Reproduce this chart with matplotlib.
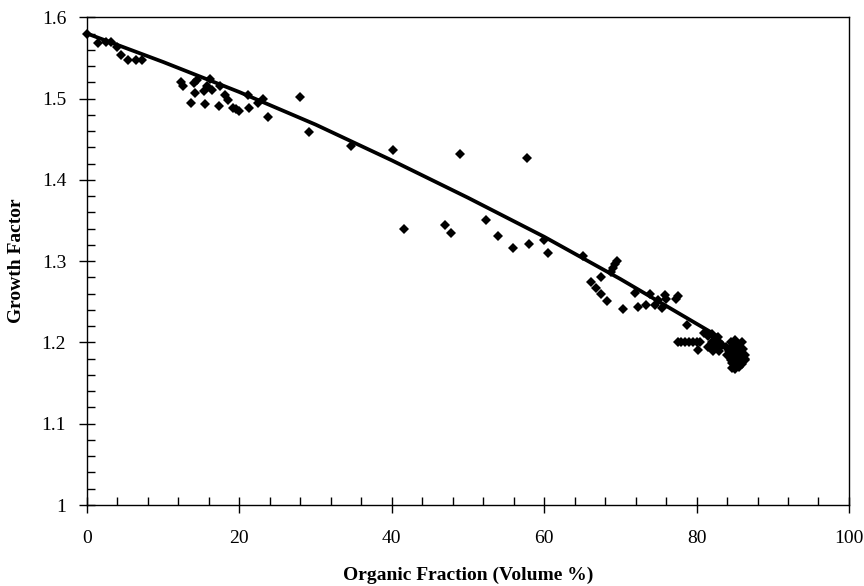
import numpy as np
import matplotlib
matplotlib.use("Agg")
import matplotlib.pyplot as plt
from matplotlib.ticker import MultipleLocator

# puntos medidos (fraccion organica %, factor de crecimiento)
frac_org = [
    0.0, 1.45, 2.5, 3.1, 3.9, 4.5, 5.4, 6.4, 7.2,
    12.3, 12.6, 13.7, 14.1, 14.2, 14.5, 15.3, 15.5, 15.7, 16.2, 16.4,
    17.3, 17.5, 18.1, 18.5, 19.1, 19.5, 19.9, 21.1, 21.2, 22.5, 23.1, 23.7,
    27.9, 29.2, 34.6,
    40.1, 41.6, 47.0, 47.8, 48.9, 52.3, 53.9, 55.9, 57.8, 58.0, 60.0, 60.5,
    65.1, 66.1, 66.8, 67.4, 67.5, 68.2, 68.8, 69.0, 69.3, 69.6, 70.4,
    71.9, 72.3, 73.4, 73.9, 74.5, 74.9, 75.4, 75.8, 76.0, 77.3, 77.6, 78.8,
    77.5, 78.0, 78.5, 79.0, 79.5, 80.0, 80.5, 80.2,
    81.0, 81.5, 82.0, 82.5, 82.0, 82.5, 83.0, 81.5, 82.2, 83.0, 82.8, 83.3,
    84.5, 85.0, 85.5, 86.0, 84.2, 84.8, 85.2, 85.8, 86.3, 84.5, 85.0,
    85.5, 86.0, 86.3, 84.8, 85.3, 85.9, 83.8, 84.0, 85.6, 84.9,
    84.3, 84.7, 85.1, 85.7, 86.1, 86.4, 84.6, 85.4,
]
factor_crec = [
    1.580, 1.568, 1.570, 1.570, 1.563, 1.553, 1.548, 1.548, 1.548,
    1.520, 1.516, 1.495, 1.519, 1.507, 1.523, 1.509, 1.493, 1.515, 1.524, 1.511,
    1.491, 1.515, 1.505, 1.498, 1.489, 1.487, 1.485, 1.505, 1.489, 1.495, 1.499, 1.477,
    1.502, 1.459, 1.442,
    1.437, 1.340, 1.345, 1.335, 1.432, 1.351, 1.331, 1.316, 1.427, 1.321, 1.326, 1.310,
    1.306, 1.274, 1.267, 1.280, 1.260, 1.251, 1.287, 1.291, 1.296, 1.300, 1.241,
    1.261, 1.243, 1.246, 1.260, 1.246, 1.252, 1.242, 1.258, 1.254, 1.254, 1.257, 1.221,
    1.201, 1.201, 1.201, 1.201, 1.201, 1.201, 1.201, 1.191,
    1.212, 1.208, 1.210, 1.205, 1.200, 1.195, 1.200, 1.195, 1.190, 1.190, 1.207, 1.197,
    1.200, 1.203, 1.198, 1.200, 1.190, 1.185, 1.190, 1.188, 1.185, 1.178, 1.172,
    1.176, 1.174, 1.180, 1.195, 1.182, 1.180, 1.195, 1.185, 1.170, 1.170,
    1.192, 1.175, 1.167, 1.192, 1.192, 1.178, 1.168, 1.186,
]

# curva de ajuste
ajuste_x = [0, 10, 20, 30, 40, 50, 60, 70, 82]
ajuste_y = [1.580, 1.545, 1.508, 1.468, 1.424, 1.378, 1.330, 1.278, 1.212]

plt.rcParams['font.family'] = ['Liberation Serif', 'DejaVu Serif']
plt.rcParams['font.size'] = 14

fig = plt.figure(figsize=(8.64, 5.86), dpi=100)
ax = fig.add_axes([0.1007, 0.1382, 0.8819, 0.8323])

ax.plot(frac_org, factor_crec, 'D', color='black', ms=4.6, mew=0, clip_on=False, zorder=3)
ax.plot(ajuste_x, ajuste_y, color='black', lw=2.7, solid_capstyle='butt', zorder=2)

ax.set_xlim(0, 100)
ax.set_ylim(1, 1.6)
ax.xaxis.set_major_locator(MultipleLocator(20))
ax.xaxis.set_minor_locator(MultipleLocator(4))
ax.yaxis.set_major_locator(MultipleLocator(0.1))
ax.yaxis.set_minor_locator(MultipleLocator(0.02))
ax.set_yticks(np.arange(1, 1.61, 0.1))
ax.set_yticklabels(['1', '1.1', '1.2', '1.3', '1.4', '1.5', '1.6'])

ax.tick_params(which='major', direction='inout', length=12, width=1, pad=9)
ax.tick_params(which='minor', direction='in', length=6, width=1)
ax.tick_params(axis='x', which='major', pad=12)
for s in ax.spines.values():
    s.set_linewidth(1)

ax.set_xlabel('Organic Fraction (Volume %)', fontweight='bold', labelpad=14)
ax.set_ylabel('Growth Factor', fontweight='bold', labelpad=12)

fig.savefig('out.png', dpi=100)
